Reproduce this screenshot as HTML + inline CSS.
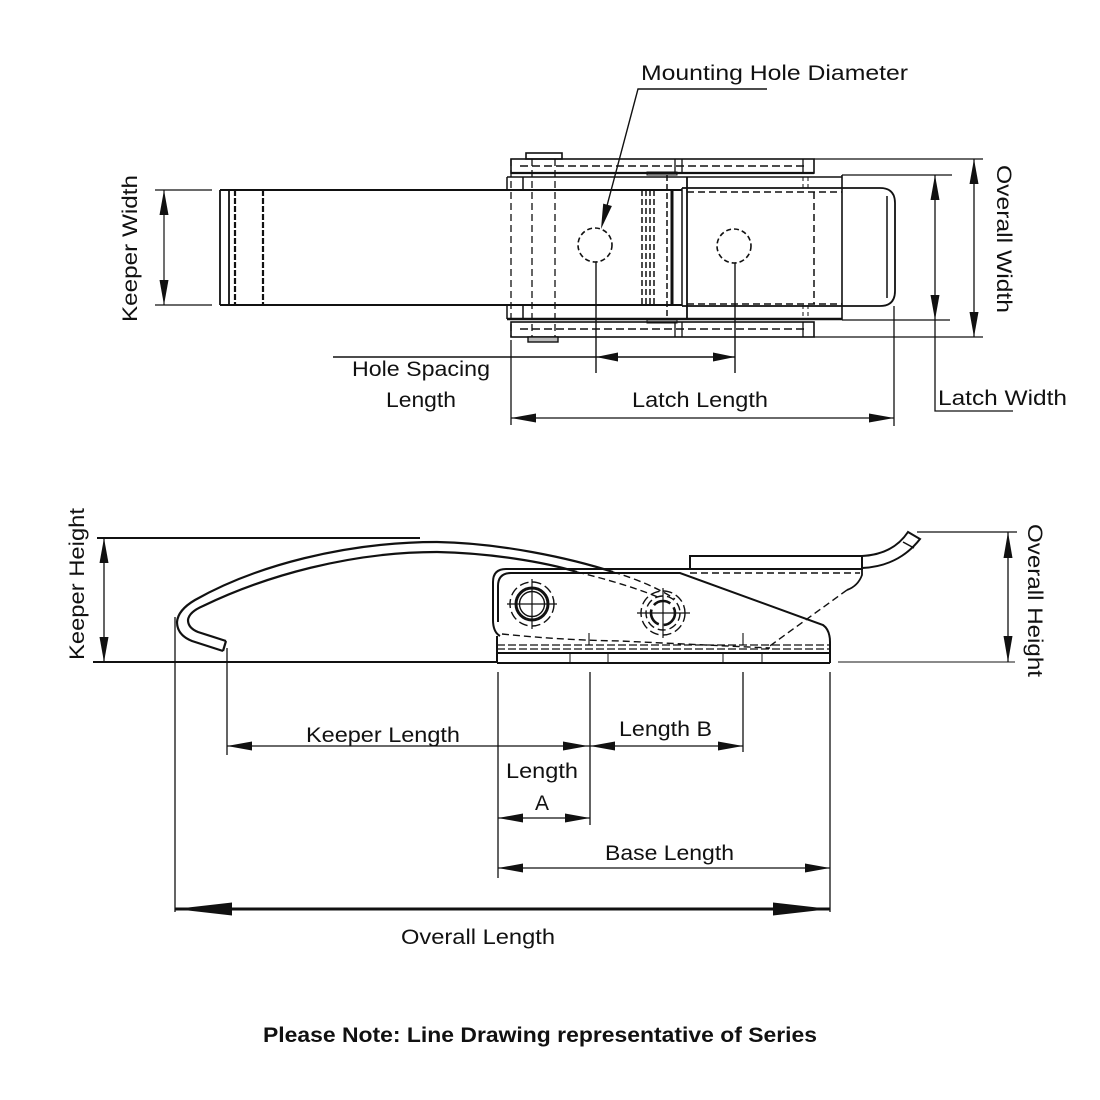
<!DOCTYPE html>
<html><head><meta charset="utf-8"><style>
html,body{margin:0;padding:0;background:#fff;}
svg{display:block}
text{font-family:"Liberation Sans",sans-serif;font-size:21px;fill:#111;}
</style></head><body>
<svg width="1100" height="1100" viewBox="0 0 1100 1100" xmlns="http://www.w3.org/2000/svg">
<rect x="0" y="0" width="1100" height="1100" fill="#fff"/>
<g fill="none" stroke="#111" stroke-linecap="butt">
<!-- ============ TOP VIEW ============ -->
<!-- keeper -->
<path d="M220,190 H682 M220,305 H682" stroke-width="2"/>
<path d="M220,190 V305 M229,190 V305" stroke-width="1.8"/>
<path d="M235,190 V305 M263,190 V305" stroke-width="2.2" stroke-dasharray="6,2"/>
<!-- keeper width dim -->
<path d="M155,190 H212 M155,305 H212 M164,190 V305" stroke-width="1.2"/>

<!-- latch top strip -->
<rect x="511" y="159" width="303" height="14" stroke-width="1.6"/>
<rect x="526" y="153" width="36" height="6" stroke-width="1.6"/>
<path d="M520,166 H805" stroke-width="1.5" stroke-dasharray="8,4"/>
<path d="M675,159 V173 M682,159 V173 M803,159 V173" stroke-width="1.3"/>
<path d="M511,173 H814" stroke-width="2.2"/>
<path d="M507,177 H842" stroke-width="1.6"/>
<path d="M507,177 V190 M523,177 V190 M507,305 V319 M523,305 V319" stroke-width="1.5"/>
<!-- bottom strip -->
<path d="M507,319 H842" stroke-width="2.5"/>
<rect x="511" y="322" width="303" height="15" stroke-width="1.6"/>
<path d="M520,329 H805" stroke-width="1.5" stroke-dasharray="8,4"/>
<path d="M675,322 V337 M682,322 V337 M803,322 V337" stroke-width="1.3"/>
<rect x="528" y="337" width="30" height="5" fill="#bbb" stroke-width="1.4"/>
<rect x="647" y="172" width="30" height="3" stroke-width="1"/>
<rect x="647" y="320" width="30" height="3" stroke-width="1"/>
<!-- main body -->
<path d="M682,188 H880 Q895,188 895,203 V291 Q895,306 880,306 H682" stroke-width="1.8"/>
<path d="M887,196 V298" stroke-width="1.5"/>
<path d="M687,177 V319" stroke-width="1.8"/>
<path d="M672,190 V305" stroke-width="3"/>
<path d="M682,188 V306" stroke-width="1.5"/>
<path d="M842,175 V320" stroke-width="1.6"/>
<path d="M687,192 H842 M687,304 H842 M814,192 V304" stroke-width="1.5" stroke-dasharray="7,4"/>
<path d="M511,159 V337 M532,159 V337 M555,159 V337" stroke-width="1.3" stroke-dasharray="7,4"/>
<path d="M642,190 V305 M646,190 V305 M650,190 V305 M654,190 V305 M667,175 V320" stroke-width="1.5" stroke-dasharray="6,3"/>
<path d="M803,177 V190 M808,177 V190 M803,305 V319 M808,305 V319" stroke-width="1" stroke-dasharray="4,3"/>
<!-- holes -->
<circle cx="595" cy="245" r="17" stroke-width="1.6" stroke-dasharray="5,3"/>
<circle cx="734" cy="246" r="17" stroke-width="1.6" stroke-dasharray="5,3"/>
<!-- mounting hole leader -->
<path d="M767,89 H638 L604,217" stroke-width="1.4"/>
<!-- hole spacing -->
<path d="M596,262 V373 M735,263 V373 M333,357 H735" stroke-width="1.4"/>
<!-- latch length -->
<path d="M511,340 V425 M894,306 V426 M511,418 H894" stroke-width="1.3"/>
<!-- overall width -->
<path d="M814,159 H983 M814,337 H983 M974,159 V337" stroke-width="1.3"/>
<!-- latch width -->
<path d="M842,175 H952 M842,320 H950 M935,175 V411 H1013" stroke-width="1.3"/>

<!-- ============ SIDE VIEW ============ -->
<path d="M93,662 H498" stroke-width="2"/>
<path d="M97,538 H420" stroke-width="2"/>
<path d="M104,538 V662" stroke-width="1.3"/>
<!-- keeper -->
<path d="M223,651 L192,641 Q177,635 177,622 Q178,610 195,600 C255,566 345,542 437,542 C500,543 570,558 613,572" stroke-width="2.2"/>
<path d="M226,641 L198,632 Q188,628 188,620 Q189,612 203,606 C265,576 350,552 437,552 C490,553 545,562 577,572" stroke-width="2.2"/>
<path d="M223,651 L226,641" stroke-width="2.2"/>
<path d="M577,572 Q630,585 660,598 M613,572 Q650,583 675,599" stroke-width="1.4" stroke-dasharray="7,4"/>
<!-- base -->
<path d="M500,636 Q493,632 493,620 V582 Q493,569 506,569 H862" stroke-width="2"/>
<path d="M498,622 V586 Q498,573 511,573 H680 L823,625 Q830,630 830,642 V663" stroke-width="2"/>
<path d="M497,663 H830 M497,653 H830 M497,636 V663" stroke-width="2"/>
<path d="M497,645 H830 M497,649 H830" stroke-width="1.3" stroke-dasharray="8,3"/>
<path d="M502,634 Q560,640 620,641 L770,648" stroke-width="1.4" stroke-dasharray="7,4"/>
<path d="M570,653 V663 M608,653 V663 M723,653 V663 M762,653 V663" stroke-width="1"/>
<rect x="690" y="556" width="172" height="13" stroke-width="2"/>
<path d="M690,573 H860" stroke-width="1.4" stroke-dasharray="7,4"/>
<path d="M862,569 V575 Q858,586 847,590" stroke-width="1.8"/>
<path d="M847,590 L767,648" stroke-width="1.4" stroke-dasharray="7,4"/>
<path d="M862,556 C882,555 898,547 908,532 L920,539 C906,557 886,567 862,568" stroke-width="2"/>
<path d="M903,542 L914,548" stroke-width="1.5"/>
<!-- holes -->
<circle cx="532" cy="604" r="16" stroke-width="3"/>
<circle cx="532" cy="604" r="12.5" stroke-width="1.4"/>
<circle cx="532" cy="604" r="22" stroke-width="1.4" stroke-dasharray="9,4"/>
<path d="M507,604 H557 M532,579 V629" stroke-width="1.2"/>
<circle cx="663" cy="613" r="12" stroke-width="2.6" stroke-dasharray="18,5"/>
<circle cx="663" cy="613" r="17" stroke-width="1.4" stroke-dasharray="8,4"/>
<circle cx="663" cy="613" r="22" stroke-width="1.4" stroke-dasharray="9,4"/>
<path d="M637,613 H690 M663,588 V638" stroke-width="1.2"/>
<path d="M589,633 V645 M743,633 V645" stroke-width="1.1"/>
<!-- extension lines -->
<path d="M175,617 V912 M227,648 V755 M498,672 V878 M590,672 V825 M743,672 V752 M830,672 V912" stroke-width="1.3"/>
<path d="M838,662 H1015" stroke-width="1.3" stroke="#444"/>
<path d="M917,532 H1017 M1008,532 V662" stroke-width="1.3"/>
<!-- dimension lines -->
<path d="M227,746 H743 M498,818 H590 M498,868 H830" stroke-width="1.3"/>
<path d="M175,909 H830" stroke-width="3"/>
</g>

<!-- arrowheads -->
<g fill="#111" stroke="none">
<polygon points="164,190 159.5,215 168.5,215"/>
<polygon points="164,305 159.5,280 168.5,280"/>
<polygon points="601,229 611.9,206 603.2,203.6"/>
<polygon points="596,357 618,352.5 618,361.5"/>
<polygon points="735,357 713,352.5 713,361.5"/>
<polygon points="511,418 536,413.5 536,422.5"/>
<polygon points="894,418 869,413.5 869,422.5"/>
<polygon points="974,159 969.5,184 978.5,184"/>
<polygon points="974,337 969.5,312 978.5,312"/>
<polygon points="935,175 930.5,200 939.5,200"/>
<polygon points="935,320 930.5,295 939.5,295"/>
<polygon points="104,538 99.5,563 108.5,563"/>
<polygon points="104,662 99.5,637 108.5,637"/>
<polygon points="1008,532 1003.5,558 1012.5,558"/>
<polygon points="1008,662 1003.5,636 1012.5,636"/>
<polygon points="227,746 252,741.5 252,750.5"/>
<polygon points="588,746 563,741.5 563,750.5"/>
<polygon points="590,746 615,741.5 615,750.5"/>
<polygon points="743,746 718,741.5 718,750.5"/>
<polygon points="498,818 523,813.5 523,822.5"/>
<polygon points="590,818 565,813.5 565,822.5"/>
<polygon points="498,868 523,863.5 523,872.5"/>
<polygon points="830,868 805,863.5 805,872.5"/>
<polygon points="175,909 232,902.5 232,915.5"/>
<polygon points="830,909 773,902.5 773,915.5"/>
</g>

<!-- labels -->
<text x="641" y="80" textLength="267" lengthAdjust="spacingAndGlyphs">Mounting Hole Diameter</text>
<text x="352" y="376" textLength="138" lengthAdjust="spacingAndGlyphs">Hole Spacing</text>
<text x="386" y="407" textLength="70" lengthAdjust="spacingAndGlyphs">Length</text>
<text x="632" y="407" textLength="136" lengthAdjust="spacingAndGlyphs">Latch Length</text>
<text x="938" y="405" textLength="129" lengthAdjust="spacingAndGlyphs">Latch Width</text>
<text x="306" y="742" textLength="154" lengthAdjust="spacingAndGlyphs">Keeper Length</text>
<text x="619" y="736" textLength="93" lengthAdjust="spacingAndGlyphs">Length B</text>
<text x="506" y="778" textLength="72" lengthAdjust="spacingAndGlyphs">Length</text>
<text x="535" y="810" textLength="14" lengthAdjust="spacingAndGlyphs">A</text>
<text x="605" y="860" textLength="129" lengthAdjust="spacingAndGlyphs">Base Length</text>
<text x="401" y="944" textLength="154" lengthAdjust="spacingAndGlyphs">Overall Length</text>
<text transform="translate(137,248.5) rotate(-90)" text-anchor="middle" textLength="147" lengthAdjust="spacingAndGlyphs">Keeper Width</text>
<text transform="translate(997,239) rotate(90)" text-anchor="middle" textLength="148" lengthAdjust="spacingAndGlyphs">Overall Width</text>
<text transform="translate(84,584) rotate(-90)" text-anchor="middle" textLength="152" lengthAdjust="spacingAndGlyphs">Keeper Height</text>
<text transform="translate(1028,600.5) rotate(90)" text-anchor="middle" textLength="153" lengthAdjust="spacingAndGlyphs">Overall Height</text>
<text x="263" y="1042" font-weight="bold" textLength="554" lengthAdjust="spacingAndGlyphs">Please Note: Line Drawing representative of Series</text>
</svg>
</body></html>
